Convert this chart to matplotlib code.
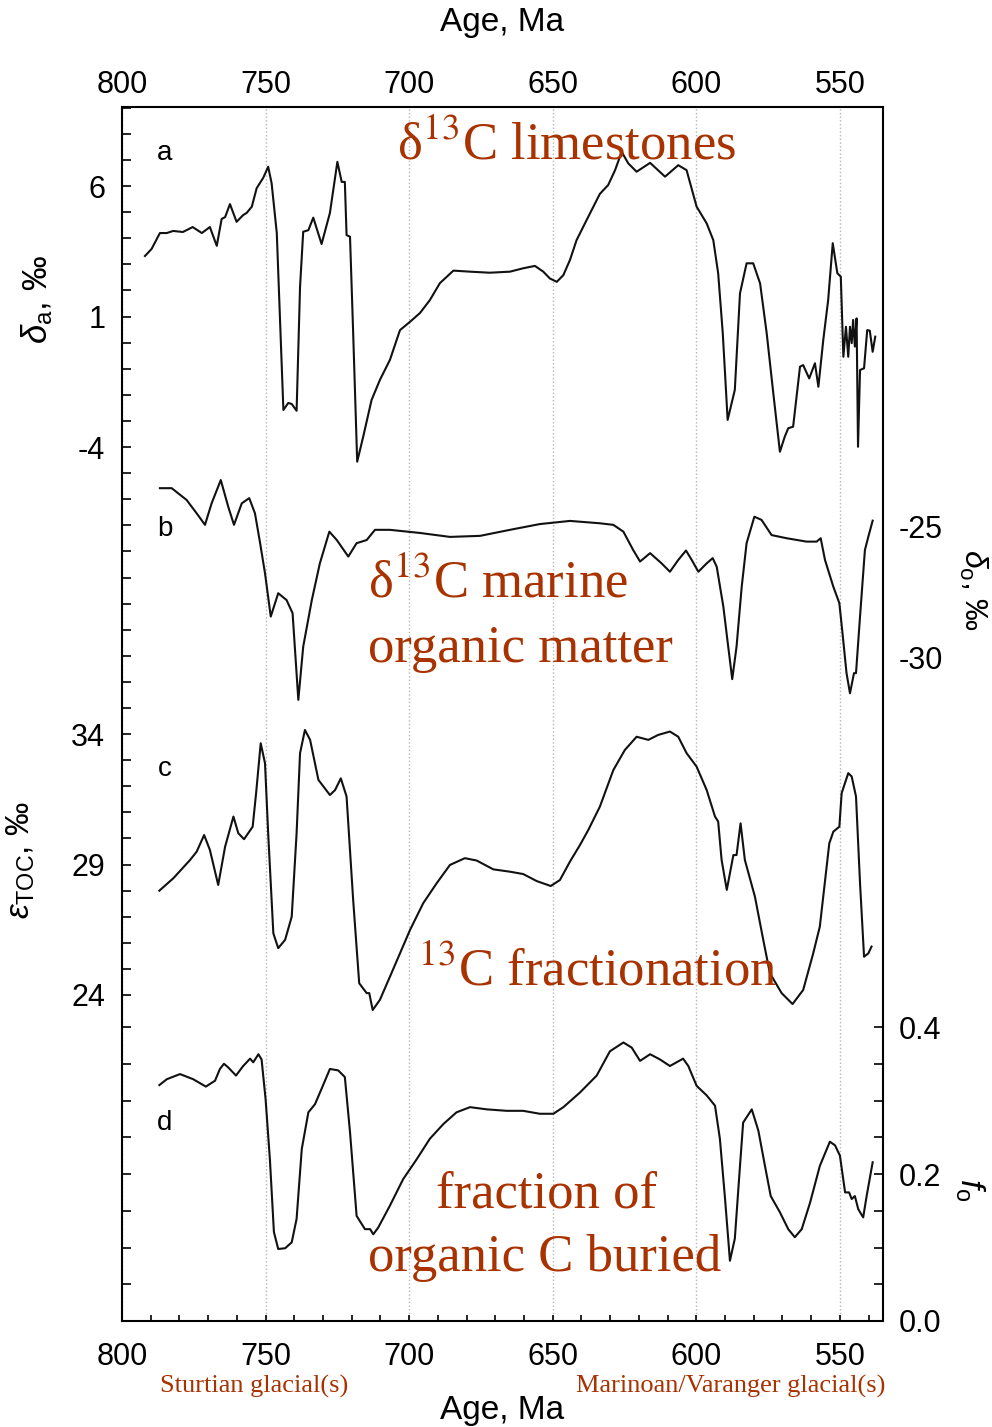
import numpy as np
import matplotlib
matplotlib.use("Agg")
import matplotlib.pyplot as plt

plt.rcParams['font.family'] = ['Liberation Sans', 'DejaVu Sans']
plt.rcParams['mathtext.fontset'] = 'custom'
plt.rcParams['mathtext.rm'] = 'Liberation Sans'
plt.rcParams['mathtext.it'] = 'Liberation Sans:italic'

# ---- digitised curves (age in Ma, value in axis units) ----
# a: delta13C of limestones, permil
a_age = [792.0, 789.7, 786.8, 784.4, 782.2, 778.8, 775.4, 772.2, 769.4, 767.0, 765.3, 764.1, 762.4, 760.1,
         757.8, 756.6, 754.8, 753.1, 750.8, 749.1, 747.9, 746.1, 743.8, 742.1, 740.9, 739.2, 738.0, 736.9,
         735.1, 733.4, 730.5, 727.6, 725.0, 723.5, 722.4, 721.8, 720.6, 719.5, 718.1, 716.0, 713.1, 710.2,
         706.7, 703.2, 699.7, 696.2, 692.8, 689.3, 684.6, 678.8, 671.9, 664.9, 660.3, 656.2, 653.3, 651.0,
         648.6, 646.3, 644.0, 641.7, 638.2, 633.6, 630.7, 628.3, 626.0, 623.7, 620.8, 616.1, 610.9, 606.3,
         603.4, 599.9, 596.4, 594.1, 592.4, 590.8, 589.1, 586.6, 584.8, 582.5, 580.2, 577.8, 575.5, 573.2,
         570.9, 569.2, 568.0, 566.3, 563.9, 562.8, 560.7, 558.7, 557.5, 555.8, 554.1, 552.5, 550.9, 549.7,
         548.8, 547.9, 547.1, 546.5, 545.9, 545.4, 544.8, 544.2, 543.7, 543.0, 541.6, 540.5, 539.6, 538.6,
         537.7]
a_val = [3.32, 3.59, 4.20, 4.20, 4.28, 4.24, 4.43, 4.20, 4.43, 3.71, 4.74, 4.81, 5.31, 4.63,
         4.89, 4.97, 5.21, 5.92, 6.32, 6.74, 6.11, 4.20, -2.58, -2.31, -2.35, -2.61, 2.14, 4.25,
         4.31, 4.79, 3.78, 4.97, 6.93, 6.16, 6.16, 4.12, 4.06, 0.37, -4.56, -3.60, -2.20, -1.43,
         -0.66, 0.48, 0.80, 1.14, 1.63, 2.28, 2.76, 2.72, 2.68, 2.72, 2.85, 2.94, 2.72, 2.46,
         2.33, 2.59, 3.17, 3.93, 4.70, 5.70, 6.04, 6.61, 7.31, 6.87, 6.55, 6.89, 6.36, 6.80,
         6.61, 5.21, 4.57, 3.93, 2.66, 0.37, -2.96, -1.81, 1.89, 3.04, 3.04, 2.27, 0.36, -1.94,
         -4.18, -3.60, -3.28, -3.22, -0.92, -0.86, -1.37, -0.79, -1.69, 0.10, 1.63, 3.81, 2.66, 2.53,
         -0.54, 0.61, -0.54, 0.61, -0.02, 0.87, -0.15, 0.93, -3.99, -1.05, -0.98, 0.48, 0.46, -0.35,
         0.23]

# b: delta13C of marine organic matter, permil
b_age = [786.8, 782.7, 777.5, 774.0, 771.1, 768.8, 765.6, 763.0, 761.0, 758.3, 755.7, 753.7, 751.9, 750.2,
         748.2, 745.6, 742.7, 740.6, 738.6, 736.9, 733.9, 731.1, 727.8, 725.2, 721.2, 718.3, 714.8, 711.9,
         706.7, 696.2, 685.8, 675.3, 664.9, 654.5, 644.0, 633.6, 628.9, 625.4, 622.0, 619.6, 616.1, 612.1,
         609.2, 606.3, 603.6, 601.6, 599.3, 596.4, 594.3, 592.9, 590.6, 588.9, 587.5, 586.0, 584.2, 582.5,
         579.8, 577.3, 573.8, 568.6, 561.6, 558.1, 556.7, 555.2, 552.3, 550.2, 549.1, 547.7, 546.5, 545.1,
         544.4, 543.0, 541.3, 540.1, 538.6]
b_val = [-23.52, -23.52, -23.97, -24.48, -24.92, -24.10, -23.21, -24.23, -24.92, -24.10, -23.90, -24.48, -25.62, -26.77,
         -28.42, -27.53, -27.79, -28.29, -31.60, -29.57, -27.79, -26.39, -25.18, -25.50, -26.13, -25.62, -25.50, -25.11,
         -25.11, -25.23, -25.38, -25.34, -25.11, -24.89, -24.77, -24.86, -24.92, -25.18, -25.88, -26.32, -26.00, -26.39,
         -26.71, -26.26, -25.90, -26.26, -26.71, -26.39, -26.19, -26.52, -28.04, -29.57, -30.81, -29.57, -27.28, -25.62,
         -24.61, -24.73, -25.31, -25.43, -25.56, -25.56, -25.43, -26.26, -27.28, -27.91, -29.06, -30.58, -31.35, -30.58,
         -30.58, -28.42, -25.88, -25.37, -24.76]

# c: 13C fractionation epsilon_TOC, permil
c_age = [787.0, 782.1, 776.3, 774.0, 771.4, 769.4, 766.5, 764.1, 761.2, 759.5, 757.5, 754.5, 753.3, 751.7,
         750.2, 749.1, 747.3, 745.6, 743.2, 740.9, 739.2, 738.0, 736.3, 734.5, 731.6, 727.6, 725.8, 723.8,
         721.8, 719.5, 717.4, 714.8, 713.9, 712.7, 710.2, 706.7, 699.7, 695.1, 690.4, 685.8, 680.6, 676.5,
         670.7, 664.9, 660.3, 655.6, 650.7, 647.5, 644.0, 640.5, 637.6, 633.6, 628.9, 624.9, 620.8, 616.7,
         613.3, 609.2, 606.3, 603.4, 599.9, 596.4, 593.5, 592.4, 591.2, 589.4, 587.1, 586.0, 584.6, 583.1,
         579.6, 576.7, 574.4, 570.3, 566.5, 562.8, 559.3, 557.0, 553.7, 552.3, 550.2, 549.4, 547.1, 545.9,
         544.4, 543.0, 541.6, 540.1, 539.0]
c_val = [28.01, 28.49, 29.19, 29.51, 30.15, 29.58, 28.23, 29.70, 30.86, 30.22, 29.99, 30.47, 31.76, 33.68,
         32.91, 30.22, 26.37, 25.80, 26.12, 27.01, 30.22, 33.30, 34.19, 33.81, 32.27, 31.69, 31.88, 32.33,
         31.63, 27.65, 24.45, 24.07, 24.07, 23.42, 23.81, 24.70, 26.50, 27.53, 28.30, 29.00, 29.26, 29.17,
         28.83, 28.74, 28.65, 28.38, 28.19, 28.42, 29.13, 29.77, 30.35, 31.24, 32.65, 33.42, 33.93, 33.81,
         34.00, 34.13, 33.93, 33.30, 32.78, 31.88, 30.86, 30.67, 29.19, 28.04, 29.38, 29.38, 30.60, 29.19,
         27.78, 26.12, 24.84, 24.07, 23.65, 24.19, 25.60, 26.63, 29.83, 30.28, 30.47, 31.76, 32.53, 32.40,
         31.63, 28.30, 25.47, 25.60, 25.86]

# d: fraction of organic carbon buried
d_age = [787.0, 784.4, 779.8, 775.2, 770.8, 767.6, 765.9, 764.5, 763.0, 760.3, 757.8, 755.4, 754.3, 752.5,
         751.4, 750.0, 748.5, 747.1, 745.6, 743.2, 740.9, 739.2, 737.4, 735.1, 732.8, 730.5, 727.6, 724.7,
         722.4, 720.6, 718.3, 715.4, 713.6, 712.5, 710.8, 706.7, 702.1, 697.4, 692.8, 688.1, 683.5, 678.8,
         673.0, 666.0, 660.3, 654.5, 649.8, 646.3, 640.5, 634.7, 630.1, 625.4, 622.5, 619.6, 616.1, 612.7,
         609.2, 604.6, 602.8, 599.9, 596.4, 593.5, 591.8, 590.0, 588.3, 586.6, 584.8, 583.7, 580.7, 578.4,
         576.1, 574.1, 570.9, 568.0, 565.7, 563.3, 560.4, 557.0, 553.5, 551.7, 550.0, 548.2, 546.8, 545.9,
         544.8, 543.6, 541.9, 540.7, 538.6]
d_val = [0.321, 0.329, 0.336, 0.329, 0.319, 0.327, 0.343, 0.350, 0.345, 0.334, 0.347, 0.357, 0.352, 0.363,
         0.356, 0.302, 0.220, 0.121, 0.098, 0.099, 0.107, 0.139, 0.234, 0.284, 0.295, 0.316, 0.343, 0.341,
         0.332, 0.257, 0.143, 0.125, 0.125, 0.118, 0.127, 0.157, 0.193, 0.220, 0.248, 0.268, 0.284, 0.291,
         0.288, 0.286, 0.286, 0.282, 0.282, 0.291, 0.311, 0.334, 0.367, 0.379, 0.372, 0.354, 0.363, 0.356,
         0.347, 0.357, 0.347, 0.320, 0.307, 0.293, 0.248, 0.166, 0.082, 0.112, 0.211, 0.270, 0.288, 0.259,
         0.211, 0.170, 0.148, 0.125, 0.114, 0.125, 0.161, 0.211, 0.244, 0.239, 0.225, 0.175, 0.175, 0.166,
         0.170, 0.152, 0.141, 0.170, 0.216]

age_major = [800, 750, 700, 650, 600, 550]
a_labels = [6, 1, -4]
b_labels = [-25, -30]
c_labels = [34, 29, 24]
d_labels = [0.0, 0.2, 0.4]

ORANGE = '#a83200'
SERIF = ['Liberation Serif', 'DejaVu Serif']
W, H = 992, 1427
TICK_FS = 22


def px(x, y):
    return x / W, 1 - y / H


fig = plt.figure(figsize=(W / 100, H / 100), dpi=100)
ax = fig.add_axes([122 / W, 1 - 1321 / H, 761 / W, 1214 / H])
ax.set_xlim(800, 535)
ax.set_ylim(-37.49, 9.03)

for s in ax.spines.values():
    s.set_linewidth(1.5)

# x axis (bottom labels on main axes)
ax.set_xticks(age_major, [str(v) for v in age_major])
ax.set_xticks(np.arange(540, 801, 10), minor=True)
ax.tick_params(axis='x', which='both', direction='in', top=True, bottom=True,
               length=4.5, width=1.2, labelsize=TICK_FS, pad=15)
ax.grid(True, axis='x', which='major', color='#b5b5b5', linestyle=':', linewidth=1.0)

# y ticks of panel a, running down through panel c
yt = np.arange(-25, 10)
ax.set_yticks(yt, [str(v) if v in a_labels else '' for v in yt])
ax.tick_params(axis='y', direction='in', left=True, right=True,
               length=6.5, width=1.2, labelsize=TICK_FS, pad=12)
ax.plot(a_age, a_val, color='#111111', lw=1.5, solid_joinstyle='round')

ax_top = ax.twiny()
ax_top.set_xlim(800, 535)
ax_top.set_xticks(age_major, [str(v) for v in age_major])
ax_top.tick_params(axis='x', length=0, labelsize=TICK_FS, pad=5)

ax_b = ax.twinx()
ax_b.set_ylim(-55.31, -8.97)
ax_b.set_yticks(b_labels, [str(v) for v in b_labels])
ax_b.tick_params(axis='y', length=0, labelsize=TICK_FS, pad=11)
ax_b.plot(b_age, b_val, color='#111111', lw=1.5, solid_joinstyle='round')

ax_c = ax.twinx()
ax_c.set_ylim(11.46, 58.15)
ax_c.yaxis.tick_left()
ax_c.set_yticks(c_labels, [str(v) for v in c_labels])
ax_c.tick_params(axis='y', length=0, labelsize=TICK_FS, pad=12)
ax_c.plot(c_age, c_val, color='#111111', lw=1.5, solid_joinstyle='round')

ax_d = ax.twinx()
ax_d.set_ylim(0, 1.652)
dt = np.round(np.arange(0, 0.41, 0.05), 2)
ax_d.set_yticks(dt, ['%.1f' % v if np.isclose(v, d_labels).any() else '' for v in dt])
ax_d.tick_params(axis='y', direction='in', left=True, right=True, labelleft=False, labelright=True,
                 length=6.5, width=1.2, labelsize=TICK_FS, pad=11)
ax_d.plot(d_age, d_val, color='#111111', lw=1.5, solid_joinstyle='round')

for extra in (ax_top, ax_b, ax_c, ax_d):
    for s in extra.spines.values():
        s.set_visible(False)

# axis titles
ax.set_xlabel('Age, Ma', fontsize=24)
ax.xaxis.set_label_coords(0.5, -0.0735)
ax.xaxis.label.set_va('center')
ax_top.set_xlabel('Age, Ma', fontsize=24)
ax_top.xaxis.set_label_coords(0.5, 1.070)
ax_top.xaxis.label.set_va('center')

ax.set_ylabel(r'$\delta_{\rm a}$, ‰', fontsize=25, rotation=90, ha='center', va='center')
ax.yaxis.set_label_coords(-0.112, 0.841)
ax_c.set_ylabel(r'$\varepsilon_{\rm TOC}$, ‰', fontsize=24, rotation=90, ha='center', va='center')
ax_c.yaxis.set_label_position('left')
ax_c.yaxis.set_label_coords(-0.112, 0.380)
ax_b.set_ylabel(r'$\delta_{\rm o}$, ‰', fontsize=23, rotation=-90, ha='center', va='center')
ax_b.yaxis.set_label_coords(1.118, 0.602)
ax_d.set_ylabel(r'$f_{\rm o}$', fontsize=24, rotation=-90, ha='center', va='center')
ax_d.yaxis.set_label_coords(1.114, 0.108)

# panel letters
for letter, yy in zip('abcd', [0.962, 0.652, 0.455, 0.163]):
    ax.text(0.056, yy, letter, transform=ax.transAxes, fontsize=20, ha='center', va='center')

# orange annotations
big = dict(color=ORANGE, fontsize=38, family=SERIF, math_fontfamily='stix', ha='left', va='baseline')
fig.text(*px(397, 160), r'δ$^{13}$C limestones', **big)
fig.text(*px(368, 598), r'δ$^{13}$C marine', **big)
fig.text(*px(368, 662), 'organic matter', **big)
fig.text(*px(418, 985), r'$^{13}$C fractionation', **big)
fig.text(*px(436, 1208), 'fraction of', **big)
fig.text(*px(368, 1271), 'organic C buried', **big)

small = dict(color=ORANGE, fontsize=19, family=SERIF, ha='left', va='baseline')
fig.text(*px(160, 1393), 'Sturtian glacial(s)', **small)
fig.text(*px(576, 1393), 'Marinoan/Varanger glacial(s)', **small)

fig.savefig('out.png', dpi=100)
